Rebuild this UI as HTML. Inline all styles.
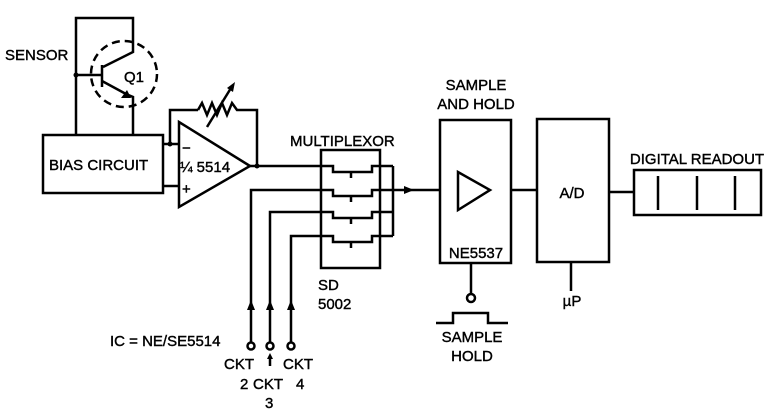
<!DOCTYPE html>
<html><head><meta charset="utf-8"><style>
html,body{margin:0;padding:0;background:#fff}
svg{display:block}
text{font-family:"Liberation Sans",Arial,sans-serif;font-size:15px;fill:#000;stroke:#000;stroke-width:0.4}
</style></head><body>
<svg width="778" height="418" viewBox="0 0 778 418" xmlns="http://www.w3.org/2000/svg">
<g stroke="#000" stroke-width="2.5" fill="none">
<polyline points="76,135 76,18 133,18 133,52 103,67"/>
<line x1="76" y1="75" x2="102" y2="75"/>
<line x1="102" y1="65" x2="102" y2="87"/>
<polyline points="102,81 126,94 133,97 133,135"/>
<circle cx="124" cy="74" r="33" stroke-dasharray="8,5"/>
<rect x="43" y="135" width="120" height="58"/>
<line x1="163" y1="144" x2="179" y2="144"/>
<line x1="163" y1="186" x2="179" y2="186"/>
<polygon points="179,122 179,207 250,166"/>
<polyline points="170,144 170,110 198,110"/>
<polyline points="198,110 202,103 207,115 212,103 217,115 222,103 227,115 232,103 237,110 257,110 257,166"/>
<line x1="207" y1="127" x2="231" y2="88"/>
<line x1="250" y1="166" x2="321" y2="166"/>
<rect x="321" y="150" width="59" height="118"/>
<polyline points="321,166 333,166 333,172 372,172 372,166 393,166"/>
<polyline points="251,308 251,190 333,190 333,196 372,196 372,190 393,190"/>
<polyline points="270,308 270,212 333,212 333,218 372,218 372,212 393,212"/>
<polyline points="291,308 291,236 333,236 333,242 372,242 372,236 393,236"/>
<line x1="351" y1="172" x2="351" y2="178"/>
<line x1="351" y1="196" x2="351" y2="202"/>
<line x1="351" y1="218" x2="351" y2="224"/>
<line x1="351" y1="242" x2="351" y2="248"/>
<line x1="393" y1="166" x2="393" y2="236"/>
<line x1="393" y1="190" x2="440" y2="190"/>
<line x1="251" y1="305" x2="251" y2="342"/>
<line x1="270" y1="305" x2="270" y2="342"/>
<line x1="291" y1="305" x2="291" y2="342"/>
<circle cx="251" cy="346" r="3.5"/>
<circle cx="270" cy="346" r="3.5"/>
<circle cx="291" cy="346" r="3.5"/>
<line x1="270" y1="356" x2="270" y2="366"/>
<rect x="440" y="120" width="71" height="143"/>
<polygon points="458,172 458,210 490,190"/>
<line x1="471" y1="263" x2="471" y2="294"/>
<circle cx="471" cy="298" r="4"/>
<polyline points="436,323 453,323 453,313 488,313 488,323 508,323"/>
<line x1="511" y1="190" x2="537" y2="190"/>
<rect x="537" y="119" width="72" height="143"/>
<line x1="571" y1="262" x2="571" y2="291"/>
<line x1="609" y1="192" x2="634" y2="192"/>
<rect x="634" y="170" width="127" height="45"/>
<line x1="658" y1="176" x2="658" y2="210"/>
<line x1="697" y1="176" x2="697" y2="210"/>
<line x1="735" y1="176" x2="735" y2="210"/>
</g>
<g fill="#000">
<circle cx="76" cy="75" r="2.5"/>
<circle cx="170" cy="144" r="2.5"/>
<circle cx="257" cy="166" r="2.5"/>
<polygon points="121,98 131,98 127,90"/>
<polygon points="235,82 227,88 233,92"/>
<polygon points="404,186 404,194 414,190"/>
<polygon points="247,310 255,310 251,300"/>
<polygon points="266,310 274,310 270,300"/>
<polygon points="287,310 295,310 291,300"/>
<polygon points="267,359 273,359 270,353"/>
</g>
<text x="5" y="60">SENSOR</text>
<text x="124" y="82">Q1</text>
<text x="49" y="170">BIAS CIRCUIT</text>
<text x="182" y="153" font-size="17">−</text>
<text x="180" y="172">¼ 5514</text>
<text x="182" y="194">+</text>
<text x="290" y="146">MULTIPLEXOR</text>
<text x="318" y="290">SD</text>
<text x="318" y="309">5002</text>
<text x="110" y="346">IC = NE/SE5514</text>
<text x="224" y="369">CKT</text>
<text x="240" y="389">2</text>
<text x="253" y="389">CKT</text>
<text x="265" y="408">3</text>
<text x="283" y="369">CKT</text>
<text x="296" y="389">4</text>
<text x="476" y="90" text-anchor="middle">SAMPLE</text>
<text x="476" y="109" text-anchor="middle">AND HOLD</text>
<text x="476" y="258" text-anchor="middle">NE5537</text>
<text x="472" y="342" text-anchor="middle">SAMPLE</text>
<text x="472" y="361" text-anchor="middle">HOLD</text>
<text x="572" y="198" text-anchor="middle">A/D</text>
<text x="572" y="306" text-anchor="middle">µP</text>
<text x="697" y="164" text-anchor="middle">DIGITAL READOUT</text>
</svg>
</body></html>
